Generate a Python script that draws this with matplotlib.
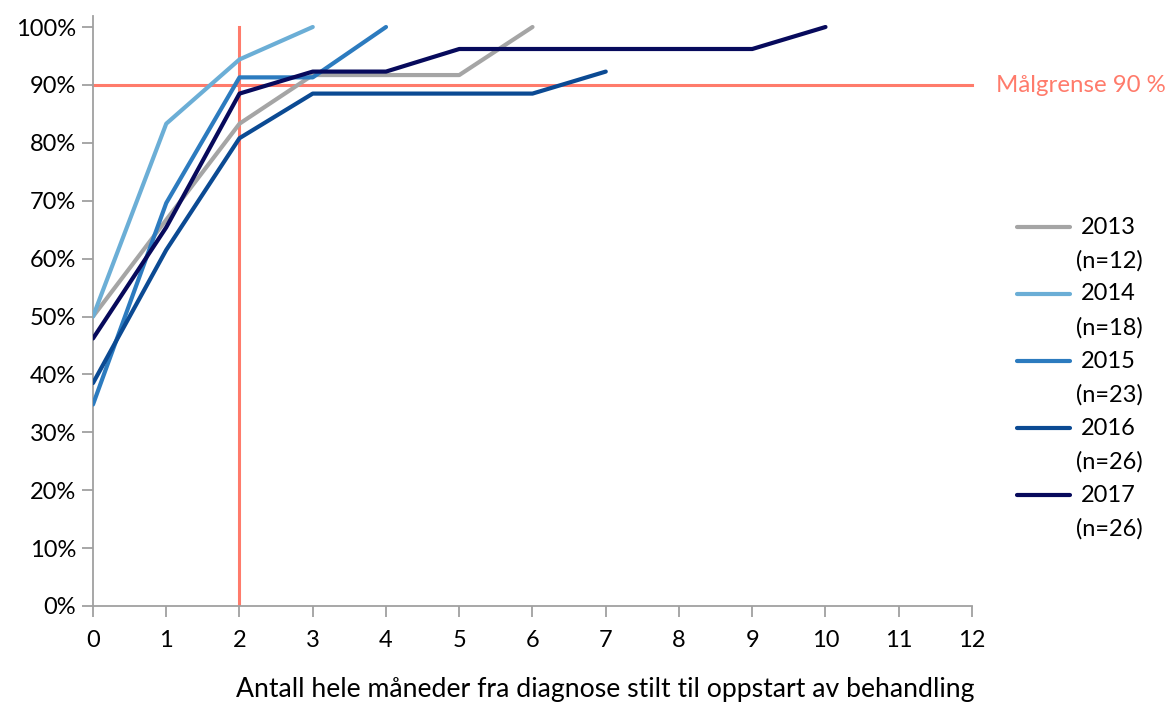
import matplotlib
matplotlib.use("Agg")
import matplotlib.pyplot as plt
from matplotlib.lines import Line2D
from matplotlib.ticker import PercentFormatter

plt.rcParams['font.family'] = ['Lato', 'DejaVu Sans']

# Cumulative share of patients started on treatment, by whole months since diagnosis
months_2013 = [0, 1, 2, 3, 4, 5, 6]
share_2013 = [0.500, 0.667, 0.833, 0.917, 0.917, 0.917, 1.000]

months_2014 = [0, 1, 2, 3]
share_2014 = [0.500, 0.833, 0.944, 1.000]

months_2015 = [0, 1, 2, 3, 4]
share_2015 = [0.348, 0.696, 0.913, 0.913, 1.000]

months_2016 = [0, 1, 2, 3, 4, 5, 6, 7]
share_2016 = [0.385, 0.615, 0.808, 0.885, 0.885, 0.885, 0.885, 0.923]

months_2017 = [0, 1, 2, 3, 4, 5, 6, 7, 8, 9, 10]
share_2017 = [0.462, 0.654, 0.885, 0.923, 0.923, 0.962, 0.962, 0.962, 0.962, 0.962, 1.000]

series_labels = ["2013\n(n=12)", "2014\n(n=18)", "2015\n(n=23)", "2016\n(n=26)", "2017\n(n=26)"]
series_colors = ["#A5A5A5", "#6BAED6", "#2C7BBF", "#0B4A93", "#070A5C"]

target_share = 0.90
target_month = 2
target_label = "Målgrense 90 %"
target_color = "#FF7B6B"

x_label = "Antall hele måneder fra diagnose stilt til oppstart av behandling"

fig = plt.figure(figsize=(11.70, 7.06), dpi=100)
ax = fig.add_axes([93 / 1170, 1 - 606 / 706, (972 - 93) / 1170, (606 - 16) / 706])

series = [
    (months_2013, share_2013),
    (months_2014, share_2014),
    (months_2015, share_2015),
    (months_2016, share_2016),
    (months_2017, share_2017),
]

# Target guide lines
ax.plot([0, 12], [target_share, target_share], color=target_color, lw=2.2, zorder=1,
        clip_on=False)
ax.plot([target_month, target_month], [0, 1.0], color=target_color, lw=2.2, zorder=1)

for (xs, ys), col, lab in zip(series, series_colors, series_labels):
    ax.plot(xs, ys, color=col, lw=3.0, solid_capstyle='round',
            solid_joinstyle='round', zorder=3, label=lab)

ax.set_xlim(0, 12)
ax.set_ylim(0, 1.019)
ax.set_xticks(range(0, 13))
ax.set_yticks([i / 10 for i in range(11)])
ax.yaxis.set_major_formatter(PercentFormatter(1.0, decimals=0))

for side in ("top", "right"):
    ax.spines[side].set_visible(False)
for side in ("left", "bottom"):
    ax.spines[side].set_color("#A0A0A0")
    ax.spines[side].set_linewidth(1.3)
ax.tick_params(axis="both", direction="out", length=8, width=1.3, color="#A0A0A0",
               labelsize=17, labelcolor="black")
ax.tick_params(axis="x", pad=9)
ax.tick_params(axis="y", pad=4)

# Axis title, centred under the whole chart area
fig.text(605 / 1170, 1 - 690 / 706, x_label, fontsize=19.2, ha="center", va="center")

# Target annotation to the right of the plot
fig.text(996 / 1170, 1 - 86 / 706, target_label, color=target_color, fontsize=17.3,
         ha="left", va="center")

# Legend with wrapped labels, handle aligned with the first line of each label
legend_y0 = 227
legend_step = 67
for i, (col, lab) in enumerate(zip(series_colors, series_labels)):
    y = legend_y0 + i * legend_step
    year, count = lab.split("\n")
    fig.add_artist(Line2D([1017 / 1170, 1070 / 1170], [1 - y / 706, 1 - y / 706],
                          color=col, lw=3.0, solid_capstyle='round'))
    fig.text(1108 / 1170, 1 - y / 706, year, fontsize=17, ha="center", va="center")
    fig.text(1109 / 1170, 1 - (y + 34) / 706, count, fontsize=17, ha="center", va="center")

fig.savefig("out.png", dpi=100)
